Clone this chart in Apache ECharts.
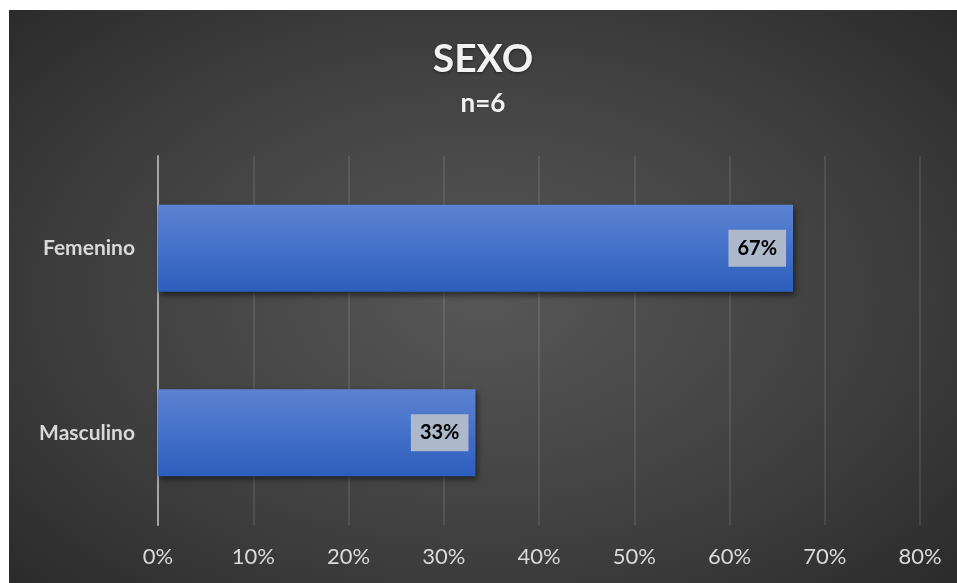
<!DOCTYPE html>
<html>
<head>
<meta charset="utf-8">
<script src="https://cdn.jsdelivr.net/npm/echarts@6/dist/echarts.min.js"></script>
<style>
html,body{margin:0;padding:0;background:#ffffff;width:957px;height:583px;overflow:hidden;}
#chart{position:absolute;left:9px;top:10px;width:948px;height:573px;
background:radial-gradient(ellipse 75% 80% at 50% 50%, #575757 0%, #3f3f3f 55%, #262626 100%);}
</style>
</head>
<body>
<div id="chart"></div>
<script>
const titleText = 'SEXO';
const subtitleText = 'n=6';
const categories = ['Femenino', 'Masculino'];
const values = [66.67, 33.33];
const valueLabels = ['67%', '33%'];
const axisMax = 80;
const axisInterval = 10;

const chart = echarts.init(document.getElementById('chart'), null, {renderer: 'canvas'});
const FONT = 'Lato, "Open Sans", sans-serif';
chart.setOption({
  backgroundColor: 'transparent',
  animation: false,
  title: {
    text: titleText,
    subtext: subtitleText,
    left: 'center',
    top: 25,
    itemGap: 12,
    textStyle: {color: '#f2f2f2', fontFamily: FONT, fontWeight: 'bold', fontSize: 39,
      textShadowColor: 'rgba(0,0,0,0.5)', textShadowBlur: 3, textShadowOffsetY: 1},
    subtextStyle: {color: '#f2f2f2', fontFamily: FONT, fontWeight: 'bold', fontSize: 26}
  },
  grid: {left: 149, right: 37, top: 146, bottom: 58, containLabel: false},
  xAxis: {
    type: 'value', min: 0, max: axisMax, interval: axisInterval,
    axisLine: {show: false}, axisTick: {show: false},
    axisLabel: {color: '#d9d9d9', fontFamily: FONT, fontSize: 22, margin: 21,
      formatter: v => v + '%'},
    splitLine: {show: true, lineStyle: {color: 'rgba(255,255,255,0.13)', width: 1.5}}
  },
  yAxis: {
    type: 'category', data: categories, inverse: true,
    axisLine: {show: true, lineStyle: {color: '#a6a6a6', width: 2}},
    axisTick: {show: false},
    axisLabel: {color: '#d9d9d9', fontFamily: FONT, fontWeight: 'bold', fontSize: 21, margin: 23}
  },
  series: [{
    type: 'bar',
    data: values,
    barWidth: 87,
    itemStyle: {
      color: new echarts.graphic.LinearGradient(0, 0, 0, 1, [
        {offset: 0, color: '#5c83d3'},
        {offset: 1, color: '#2c5ebd'}
      ]),
      shadowColor: 'rgba(0,0,0,0.55)', shadowBlur: 6, shadowOffsetX: 2, shadowOffsetY: 3
    },
    label: {
      show: true, position: 'insideRight', distance: 7,
      formatter: p => valueLabels[p.dataIndex],
      color: '#000000', fontFamily: FONT, fontWeight: 'bold', fontSize: 20,
      backgroundColor: '#adb9ca', padding: [9, 9, 8, 9]
    }
  }]
});
</script>
</body>
</html>
